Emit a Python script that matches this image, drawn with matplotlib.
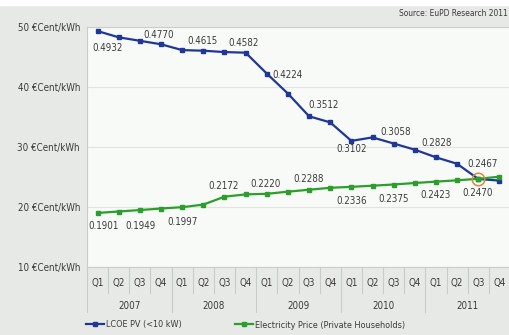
import matplotlib.pyplot as plt
from matplotlib.lines import Line2D
from matplotlib.patches import Rectangle

# quarterly values in EUR/kWh
quarters = ['Q1', 'Q2', 'Q3', 'Q4']
years = ['2007', '2008', '2009', '2010', '2011']
lcoe_pv = [0.4932, 0.4828, 0.4770, 0.4712, 0.4615, 0.4605, 0.4582, 0.4572,
           0.4224, 0.3890, 0.3512, 0.3410, 0.3102, 0.3160, 0.3058, 0.2955,
           0.2828, 0.2720, 0.2467, 0.2440]
elec_price = [0.1901, 0.1925, 0.1949, 0.1975, 0.1997, 0.2040, 0.2172, 0.2210,
              0.2220, 0.2255, 0.2288, 0.2320, 0.2336, 0.2355, 0.2375, 0.2400,
              0.2423, 0.2445, 0.2470, 0.2505]
labelled = [0, 2, 4, 6, 8, 10, 12, 14, 16, 18]
grid_par = 18  # quarter where PV reaches grid parity

# label offsets in pixels (dx, dy down)
lcoe_offsets = [(10, 17), (19, -6), (20, -9), (19, -9), (21, 1),
                (14, -11), (0, 8), (2, -12), (1, -14), (4, -15)]
elec_offsets = [(6, 13), (1, 16), (0, 15), (-1, -11), (-1, -10),
                (0, -11), (0, 14), (0, 15), (0, 13), (-1, 14)]

BG = '#e7e9e7'
PLOT_BG = '#f8faf8'
BLUE = '#1f3796'
GREEN = '#2b9e2b'
TXT = '#3a3a3a'
LINE = '#c9cdc9'

plt.rcParams['font.family'] = ['DejaVu Sans']
plt.rcParams['font.stretch'] = 'condensed'

fig = plt.figure(figsize=(5.1, 3.35), dpi=100, facecolor=BG)
fig.patches.append(Rectangle((0, 1 - 5 / 335), 1, 5 / 335, transform=fig.transFigure,
                             color='white', zorder=0))
ax = fig.add_axes([87 / 510, 68 / 335, 423 / 510, 240 / 335])
ax.set_facecolor(PLOT_BG)

n = len(lcoe_pv)
xs = list(range(n))
lcoe_c = [v * 100 for v in lcoe_pv]
elec_c = [v * 100 for v in elec_price]

ax.plot(xs, lcoe_c, color=BLUE, lw=1.6, marker='s', ms=3, zorder=3)
ax.plot(xs, elec_c, color=GREEN, lw=1.6, marker='s', ms=3, zorder=4)
ax.plot(grid_par, elec_c[grid_par], marker='o', ms=9, mfc='none', mec='#d98a3a',
        mew=1.1, zorder=5)

for i, (dx, dy) in zip(labelled, lcoe_offsets):
    ax.annotate(f'{lcoe_pv[i]:.4f}', (i, lcoe_c[i]), xytext=(dx * 0.72, -dy * 0.72),
                textcoords='offset points', ha='center', va='center',
                fontsize=7, color=TXT, zorder=6)
for i, (dx, dy) in zip(labelled, elec_offsets):
    ax.annotate(f'{elec_price[i]:.4f}', (i, elec_c[i]), xytext=(dx * 0.72, -dy * 0.72),
                textcoords='offset points', ha='center', va='center',
                fontsize=7, color=TXT, zorder=6)

ax.set_xlim(-0.5, n - 0.5)
ax.set_ylim(10, 50)
ax.set_yticks([10, 20, 30, 40, 50])
ax.set_yticklabels([f'{t} €Cent/kWh' for t in [10, 20, 30, 40, 50]])
ax.grid(axis='y', color='#e1e5e1', lw=0.8)
ax.set_axisbelow(True)
ax.tick_params(axis='y', length=0, pad=5, labelsize=7, labelcolor=TXT)

ax.set_xticks(xs)
ax.set_xticklabels([quarters[i % 4] for i in xs])
ax.tick_params(axis='x', length=0, pad=8, labelsize=7, labelcolor=TXT)

ax.spines['right'].set_visible(False)
for side in ['left', 'top', 'bottom']:
    ax.spines[side].set_color(LINE)
    ax.spines[side].set_linewidth(0.8)

# category separators below the plot
trans = ax.get_xaxis_transform()
for k in range(1, n):
    b = k - 0.5
    depth = -45 / 240 if k % 4 == 0 else -26 / 240
    ax.plot([b, b], [0, depth], transform=trans, clip_on=False, color=LINE, lw=0.8)
ax.plot([-0.5, -0.5], [0, -45 / 240], transform=trans, clip_on=False, color=LINE, lw=0.8)
for j, yr in enumerate(years):
    ax.text(j * 4 + 1.5, -39 / 240, yr, transform=trans, ha='center', va='center',
            fontsize=7, color=TXT)

fig.text(1 - 2 / 510, 1 - 13 / 335, 'Source: EuPD Research 2011', ha='right', va='center',
         fontsize=6, color=TXT)

handles = [Line2D([], [], color=BLUE, lw=1.6, marker='s', ms=3),
           Line2D([], [], color=GREEN, lw=1.6, marker='s', ms=3)]
fig.legend(handles, ['LCOE PV (<10 kW)', 'Electricity Price (Private Households)'],
           loc='center left', bbox_to_anchor=(86 / 510, 1 - 325 / 335), ncol=2,
           frameon=False, fontsize=6.5, handlelength=2.0, handletextpad=0.2,
           columnspacing=5.9, borderpad=0, borderaxespad=0, labelcolor=TXT)

fig.savefig('out.png', dpi=100, facecolor=BG)
